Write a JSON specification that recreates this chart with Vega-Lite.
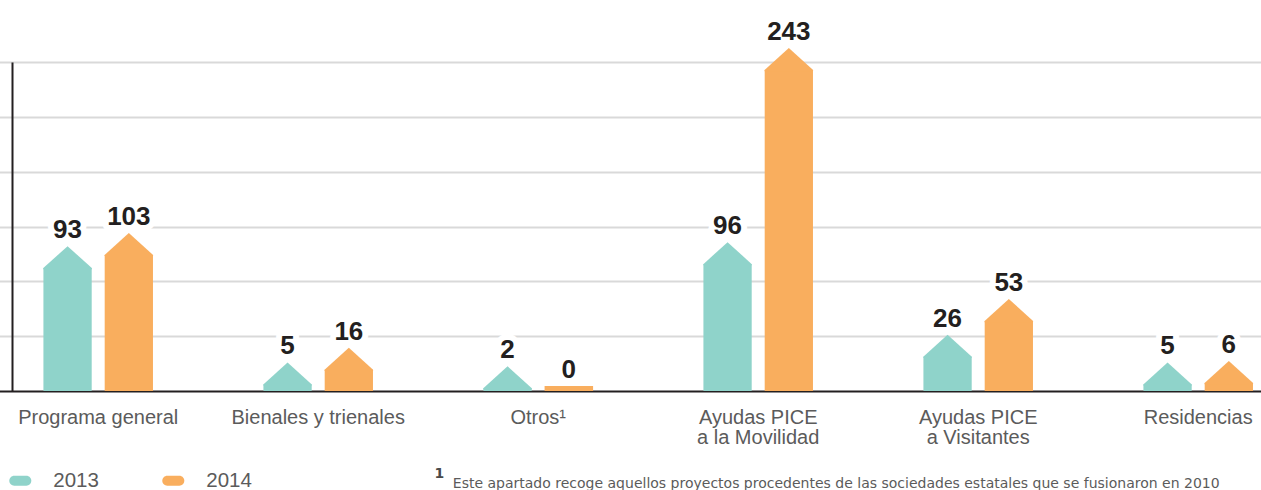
{
  "$schema": "https://vega.github.io/schema/vega-lite/v6.json",
  "width": 1247,
  "height": 329,
  "autosize": {"type": "none"},
  "padding": {"left": 12, "top": 62, "right": 2, "bottom": 99},
  "background": "white",
  "data": {
    "values": [
      {"categoria": "Programa general", "anio": "2013", "valor": 93},
      {"categoria": "Programa general", "anio": "2014", "valor": 103},
      {"categoria": "Bienales y trienales", "anio": "2013", "valor": 5},
      {"categoria": "Bienales y trienales", "anio": "2014", "valor": 16},
      {"categoria": "Otros¹", "anio": "2013", "valor": 2},
      {"categoria": "Otros¹", "anio": "2014", "valor": 0},
      {"categoria": "Ayudas PICE|a la Movilidad", "anio": "2013", "valor": 96},
      {"categoria": "Ayudas PICE|a la Movilidad", "anio": "2014", "valor": 243},
      {"categoria": "Ayudas PICE|a Visitantes", "anio": "2013", "valor": 26},
      {"categoria": "Ayudas PICE|a Visitantes", "anio": "2014", "valor": 53},
      {"categoria": "Residencias", "anio": "2013", "valor": 5},
      {"categoria": "Residencias", "anio": "2014", "valor": 6}
    ]
  },
  "encoding": {
    "x": {
      "field": "categoria",
      "type": "nominal",
      "sort": null,
      "scale": {"range": [-23.8, 1296.2], "paddingInner": 0.443, "paddingOuter": 0.2215},
      "axis": {
        "domain": false,
        "ticks": false,
        "labelAngle": 0,
        "labelExpr": "split(datum.value, '|')",
        "labelFont": "Liberation Sans",
        "labelFontSize": 20,
        "labelColor": "#5b5b5b",
        "labelPadding": 16.5,
        "labelLineHeight": 20,
        "labelLimit": 0,
        "labelOverlap": false,
        "title": "Este apartado recoge aquellos proyectos procedentes de las sociedades estatales que se fusionaron en 2010",
        "titleFont": "DejaVu Sans",
        "titleFontSize": 14,
        "titleFontWeight": "normal",
        "titleColor": "#5b5b5b",
        "titleX": 440.3,
        "titleY": 96.3,
        "titleAlign": "left",
        "titleAnchor": "start",
        "titleBaseline": "alphabetic"
      }
    },
    "xOffset": {
      "field": "anio",
      "type": "nominal",
      "scale": {"paddingInner": 0.212, "paddingOuter": 0.106}
    },
    "y": {
      "field": "valor",
      "type": "quantitative",
      "scale": {"domain": [0, 249], "nice": false},
      "axis": {
        "values": [0, 41.5, 83, 124.5, 166, 207.5, 249],
        "labels": false,
        "ticks": false,
        "domain": true,
        "domainColor": "#231f20",
        "domainWidth": 2,
        "grid": true,
        "gridColor": {"condition": {"test": "datum.value === 0", "value": "#231f20"}, "value": "#d9d9d9"},
        "gridWidth": 2,
        "title": "1",
        "titleFont": "DejaVu Sans",
        "titleFontSize": 14,
        "titleFontWeight": "bold",
        "titleColor": "#4a4a4a",
        "titleAngle": 0,
        "titleX": 422,
        "titleY": 415.3,
        "titleAlign": "left",
        "titleBaseline": "alphabetic"
      }
    }
  },
  "layer": [
    {
      "mark": {"type": "bar", "opacity": 1},
      "encoding": {
        "color": {
          "field": "anio",
          "type": "nominal",
          "scale": {"domain": ["2013", "2014"], "range": ["#8fd3ca", "#f9ae5e"]},
          "legend": {
            "orient": "none",
            "legendX": -2.7,
            "legendY": 407.5,
            "direction": "horizontal",
            "title": null,
            "padding": 0,
            "symbolType": "M-0.55,-0.45L0.55,-0.45A0.45,0.45 0 0 1 0.55,0.45L-0.55,0.45A0.45,0.45 0 0 1 -0.55,-0.45Z",
            "symbolSize": 484,
            "symbolStrokeWidth": 0,
            "symbolOpacity": 1,
            "labelFont": "Liberation Sans",
            "labelFontSize": 20.5,
            "labelColor": "#5b5b5b",
            "labelOffset": 22,
            "columnPadding": 63
          }
        }
      }
    },
    {
      "transform": [{"filter": "datum.valor > 0"}],
      "mark": {
        "type": "point",
        "shape": "M-1,0.05L-1,0L0,-0.907L1,0L1,0.05Z",
        "size": 2352,
        "filled": true,
        "opacity": 1,
        "strokeWidth": 0
      },
      "encoding": {
        "color": {"field": "anio", "type": "nominal"}
      }
    },
    {
      "transform": [{"filter": "datum.valor == 0"}],
      "mark": {
        "type": "point",
        "shape": "M-1,0L1,0L1,-0.206L-1,-0.206Z",
        "size": 2352,
        "filled": true,
        "opacity": 1,
        "strokeWidth": 0
      },
      "encoding": {
        "color": {"field": "anio", "type": "nominal"}
      }
    },
    {
      "mark": {
        "type": "text",
        "font": "Liberation Sans",
        "fontWeight": "bold",
        "fontSize": 26,
        "baseline": "alphabetic",
        "dy": {"expr": "datum.valor == 0 ? -13 : -30"},
        "fill": "white",
        "stroke": "white",
        "strokeWidth": 12,
        "strokeJoin": "round"
      },
      "encoding": {"text": {"field": "valor", "type": "quantitative"}}
    },
    {
      "mark": {
        "type": "text",
        "font": "Liberation Sans",
        "fontWeight": "bold",
        "fontSize": 26,
        "baseline": "alphabetic",
        "dy": {"expr": "datum.valor == 0 ? -13 : -30"},
        "fill": "#231f20"
      },
      "encoding": {"text": {"field": "valor", "type": "quantitative"}}
    }
  ],
  "config": {"view": {"stroke": null}}
}
